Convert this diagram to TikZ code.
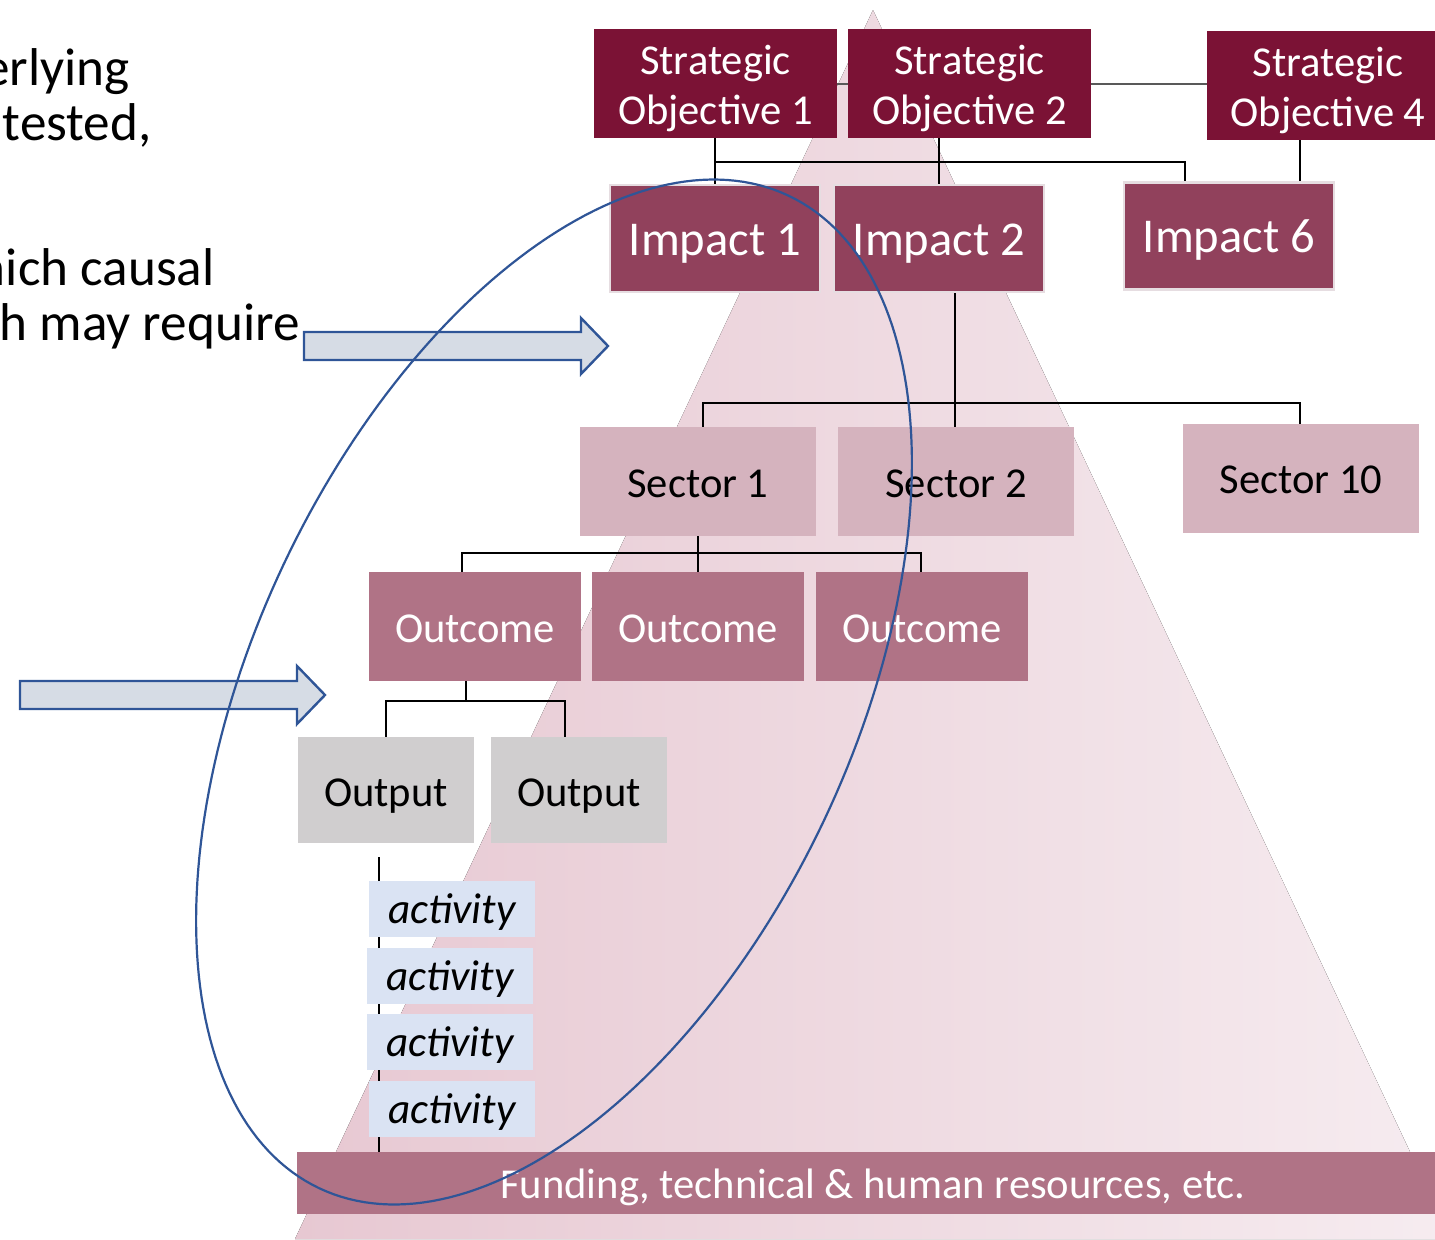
\documentclass[tikz,border=0pt]{standalone}
\usepackage{fontspec}
\setmainfont{Carlito}
\usetikzlibrary{calc}
\pgfdeclarelayer{tri}
\pgfdeclarelayer{lines}
\pgfsetlayers{tri,lines,main}
\definecolor{socol}{HTML}{7B1235}
\definecolor{imcol}{HTML}{91415C}
\definecolor{secol}{HTML}{D5B3BE}
\definecolor{occol}{HTML}{B07386}
\definecolor{opcol}{HTML}{D0CECF}
\definecolor{accol}{HTML}{DAE3F3}
\definecolor{arfill}{HTML}{D6DCE5}
\definecolor{blueln}{HTML}{2F5597}
\definecolor{trileft}{HTML}{E7C8D2}
\definecolor{triright}{HTML}{F6ECF0}
\definecolor{imborder}{HTML}{E6DDE1}
\definecolor{grayln}{HTML}{595959}
\tikzset{
  boxbase/.style={inner sep=0pt, outer sep=0pt, align=center, text depth=0pt},
  sobox/.style={boxbase, fill=socol, text=white, minimum width=121.5pt, minimum height=54.5pt, text height=40.5pt, font=\fontsize{21.3}{25}\selectfont},
  imbox/.style={boxbase, fill=imcol, draw=imborder, line width=1.2pt, text=white, minimum width=105pt, minimum height=53.5pt, text height=16.8pt, font=\fontsize{24.3}{28}\selectfont},
  sebox/.style={boxbase, fill=secol, text=black, minimum width=118pt, minimum height=54.5pt, text height=15.7pt, font=\fontsize{21.3}{25}\selectfont},
  ocbox/.style={boxbase, fill=occol, text=white, minimum width=106pt, minimum height=54.5pt, text height=15.7pt, font=\fontsize{21.3}{25}\selectfont},
  opbox/.style={boxbase, fill=opcol, text=black, minimum width=88pt, minimum height=53pt, text height=16.2pt, font=\fontsize{21.3}{25}\selectfont},
  acbox/.style={boxbase, fill=accol, text=black, minimum width=83pt, minimum height=28pt, text height=14.2pt, font=\fontsize{21.6}{25}\selectfont\itshape},
  fundbox/.style={boxbase, fill=occol, text=white, minimum width=576pt, minimum height=31pt, text height=15.7pt, font=\fontsize{21.3}{25}\selectfont},
  conn/.style={draw=black, line width=0.7pt},
  gconn/.style={draw=grayln, line width=1pt},
  blockarrow/.style={fill=arfill, draw=blueln, line width=1.2pt, line join=miter},
  loop/.style={draw=blueln, line width=1.1pt},
  sidetext/.style={inner sep=0pt, anchor=base east, font=\fontsize{26.6}{31}\selectfont}
}
\begin{document}
\begin{tikzpicture}[x=0.5pt, y=-0.5pt]
\useasboundingbox (0,0) rectangle (1435,1239);
% background triangle
\begin{pgfonlayer}{tri}
\fill[left color=trileft, right color=triright] (873,10) -- (1451,1239) -- (295,1239) -- cycle;
\end{pgfonlayer}
% side text (cut by the left edge, as in the reference)
\node[sidetext] (t1) at (130,85) {erlying};
\node[sidetext] (t2) at (152,140) {tested,};
\node[sidetext] (t3) at (215,285) {hich causal};
\node[sidetext] (t4) at (300,340) {h may require};
% boxes
\node[sobox] (so1) at (715.5,83.5) {Strategic\\Objective 1};
\node[sobox] (so2) at (969.5,83.5) {Strategic\\Objective 2};
\node[sobox] (so4) at (1328,85.5) {Strategic\\Objective 4};
\node[imbox] (im1) at (715,238.5) {Impact 1};
\node[imbox] (im2) at (939,238.5) {Impact 2};
\node[imbox] (im6) at (1229,236) {Impact 6};
\node[sebox] (se1) at (698,481.5) {Sector 1};
\node[sebox] (se2) at (956,481.5) {Sector 2};
\node[sebox] (se10) at (1301,478) {Sector 10};
\node[ocbox] (oc1) at (475,626.5) {Outcome};
\node[ocbox] (oc2) at (698,626.5) {Outcome};
\node[ocbox] (oc3) at (922,626.5) {Outcome};
\node[opbox] (op1) at (386,790) {Output};
\node[opbox] (op2) at (579,790) {Output};
\node[acbox] (ac1) at (452,909) {activity};
\node[acbox] (ac2) at (450,976) {activity};
\node[acbox] (ac3) at (450,1042) {activity};
\node[acbox] (ac4) at (452,1109) {activity};
\node[fundbox] (fund) at (873,1183) {Funding, technical \& human resources, etc.};
% junction coordinates
\coordinate (j1l) at (715,162);
\coordinate (j1r) at (1185,162);
\coordinate (c4) at (1300,0);
\coordinate (c5) at (955,0);
\coordinate (j2l) at (703,403);
\coordinate (j2r) at (1300,403);
\coordinate (j3l) at (462,553);
\coordinate (j3r) at (921,553);
\coordinate (j4) at (466,701);
\coordinate (j4l) at (386,701);
\coordinate (j4r) at (565,701);
\coordinate (actop) at (379,857);
% connectors
\begin{pgfonlayer}{lines}
\draw[gconn] (so1.east) -- (so2.west);
\draw[gconn] (so2.east) -- (so2.east -| so4.west);
\draw[conn] (so1.south -| im1.north) -- (im1.north);
\draw[conn] (j1l) -- (j1r) -- (j1r |- im6.north);
\draw[conn] (so2.south -| im2.north) -- (im2.north);
\draw[conn] (so4.south -| c4) -- (im6.north -| c4);
\draw[conn] (im2.south -| c5) -- (se2.north -| c5);
\draw[conn] (se1.north -| j2l) -- (j2l) -- (j2r) -- (se10.north -| j2r);
\draw[conn] (se1.south) -- (oc2.north);
\draw[conn] (oc1.north -| j3l) -- (j3l) -- (j3r) -- (oc3.north -| j3r);
\draw[conn] (oc1.south -| j4) -- (j4);
\draw[conn] (op1.north) -- (j4l) -- (j4r) -- (op2.north -| j4r);
\draw[conn] (actop) -- (actop |- fund.north);
\end{pgfonlayer}
% block arrows
\draw[blockarrow] (304,332) -- (581,332) -- (581,318) -- (608,346) -- (581,374) -- (581,360) -- (304,360) -- cycle;
\draw[blockarrow] (20,681) -- (297,681) -- (297,666) -- (325,695) -- (297,724) -- (297,709) -- (20,709) -- cycle;
% tilted loop
\draw[loop] plot[domain=0:360, samples=241] ({554+234.6*cos(\x)-270.3*sin(\x)},{692-496.3*cos(\x)-127.8*sin(\x)}) -- cycle;
\end{tikzpicture}
\end{document}
